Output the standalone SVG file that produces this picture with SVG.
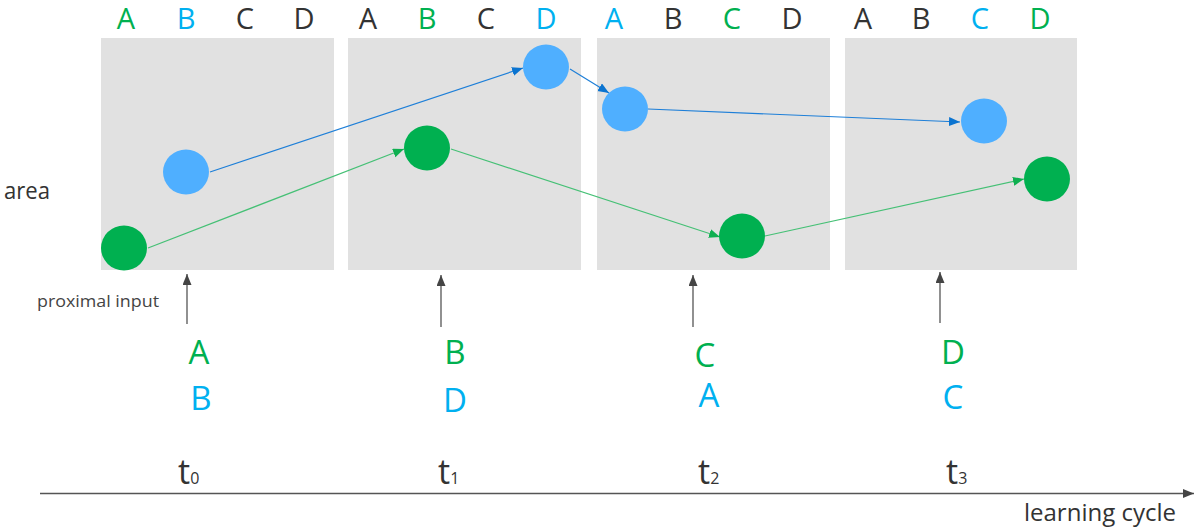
<svg xmlns="http://www.w3.org/2000/svg" width="1198" height="528" viewBox="0 0 1198 528">
  <style>
    text { font-family: "Open Sans", "Noto Sans", "Liberation Sans", sans-serif; }
    .panel { fill: #E1E1E1; }
    .top { font-size: 29px; text-anchor: middle; }
    .inp { font-size: 33px; text-anchor: middle; }
    .dk { fill: #333333; }
    .gr { fill: #00B050; }
    .bl { fill: #00B0F0; }
    .cb { fill: #4FAFFF; }
    .cg { fill: #00B050; }
    .lb { stroke: #1E7FD8; stroke-width: 1.2; fill: none; marker-end: url(#mb); }
    .lg { stroke: #45C075; stroke-width: 1.2; fill: none; marker-end: url(#mg); }
    .up { stroke: #555555; stroke-width: 1.3; fill: none; marker-end: url(#mk); }
    .tl { font-size: 34px; fill: #333333; }
    .sub { font-size: 16px; }
  </style>
  <defs>
    <marker id="mb" markerUnits="userSpaceOnUse" markerWidth="12" markerHeight="10" refX="11" refY="4.5" orient="auto">
      <path d="M0,0 L11,4.5 L0,9 z" fill="#0B74D0"/>
    </marker>
    <marker id="mg" markerUnits="userSpaceOnUse" markerWidth="12" markerHeight="10" refX="11" refY="4.5" orient="auto">
      <path d="M0,0 L11,4.5 L0,9 z" fill="#0FAF50"/>
    </marker>
    <marker id="mk" markerUnits="userSpaceOnUse" markerWidth="12" markerHeight="10" refX="11" refY="4.5" orient="auto">
      <path d="M0,0 L11,4.5 L0,9 z" fill="#444444"/>
    </marker>
  </defs>

  <g id="panels">
    <rect id="panel-t0" class="panel" x="101" y="38" width="233" height="232"/>
    <rect id="panel-t1" class="panel" x="348" y="38" width="233" height="232"/>
    <rect id="panel-t2" class="panel" x="597" y="38" width="233" height="232"/>
    <rect id="panel-t3" class="panel" x="845" y="38" width="232" height="232"/>
  </g>

  <g id="column-labels">
    <text class="top gr" x="126" y="29">A</text>
    <text class="top bl" x="186" y="29">B</text>
    <text class="top dk" x="245" y="29">C</text>
    <text class="top dk" x="304" y="29">D</text>
    <text class="top dk" x="368" y="29">A</text>
    <text class="top gr" x="427" y="29">B</text>
    <text class="top dk" x="486" y="29">C</text>
    <text class="top bl" x="546" y="29">D</text>
    <text class="top bl" x="614" y="29">A</text>
    <text class="top dk" x="673" y="29">B</text>
    <text class="top gr" x="732" y="29">C</text>
    <text class="top dk" x="792" y="29">D</text>
    <text class="top dk" x="863" y="29">A</text>
    <text class="top dk" x="921" y="29">B</text>
    <text class="top bl" x="980" y="29">C</text>
    <text class="top gr" x="1040" y="29">D</text>
  </g>

  <g id="connectors">
    <line class="lb" x1="210" y1="172" x2="523" y2="68"/>
    <line class="lg" x1="148" y1="248" x2="404" y2="149"/>
    <line class="lb" x1="570" y1="69" x2="609" y2="93"/>
    <line class="lg" x1="451" y1="149" x2="720" y2="237"/>
    <line class="lb" x1="648" y1="109" x2="960" y2="122"/>
    <line class="lg" x1="765" y1="236" x2="1024" y2="179"/>
    <line class="up" x1="187" y1="324" x2="187" y2="274"/>
    <line class="up" x1="441" y1="327" x2="441" y2="275"/>
    <line class="up" x1="693" y1="327" x2="693" y2="275"/>
    <line class="up" x1="940" y1="323" x2="940" y2="272"/>
    <line x1="40" y1="493.5" x2="1194" y2="493.5" stroke="#555555" stroke-width="1.3" marker-end="url(#mk)"/>
  </g>

  <g id="cells">
    <ellipse id="g0" class="cg" cx="124" cy="248" rx="23" ry="22.5"/>
    <ellipse id="b0" class="cb" cx="186" cy="172" rx="23" ry="22.5"/>
    <ellipse id="g1" class="cg" cx="427" cy="148" rx="23" ry="22.5"/>
    <ellipse id="b1" class="cb" cx="546" cy="67" rx="23" ry="22.5"/>
    <ellipse id="b2" class="cb" cx="625" cy="109" rx="23" ry="22.5"/>
    <ellipse id="g2" class="cg" cx="742" cy="236" rx="23" ry="22.5"/>
    <ellipse id="b3" class="cb" cx="984" cy="121" rx="23" ry="22.5"/>
    <ellipse id="g3" class="cg" cx="1047" cy="179" rx="23" ry="22.5"/>
  </g>

  <g id="inputs">
    <text class="inp gr" x="199" y="364">A</text>
    <text class="inp bl" x="201" y="410">B</text>
    <text class="inp gr" x="455" y="364">B</text>
    <text class="inp bl" x="455" y="412">D</text>
    <text class="inp gr" x="705" y="367">C</text>
    <text class="inp bl" x="709" y="407">A</text>
    <text class="inp gr" x="953" y="364">D</text>
    <text class="inp bl" x="953" y="409">C</text>
  </g>

  <g id="times">
    <text class="tl" x="178" y="484">t<tspan class="sub">0</tspan></text>
    <text class="tl" x="438" y="484">t<tspan class="sub">1</tspan></text>
    <text class="tl" x="698" y="484">t<tspan class="sub">2</tspan></text>
    <text class="tl" x="946" y="484">t<tspan class="sub">3</tspan></text>
  </g>

  <g id="labels">
    <text x="4" y="199" font-size="24" fill="#333333" textLength="46" lengthAdjust="spacingAndGlyphs">area</text>
    <text x="37" y="307" font-size="16" fill="#444444" textLength="122" lengthAdjust="spacingAndGlyphs">proximal input</text>
    <text x="1024" y="521" font-size="24" fill="#333333" textLength="152" lengthAdjust="spacingAndGlyphs">learning cycle</text>
  </g>
</svg>
